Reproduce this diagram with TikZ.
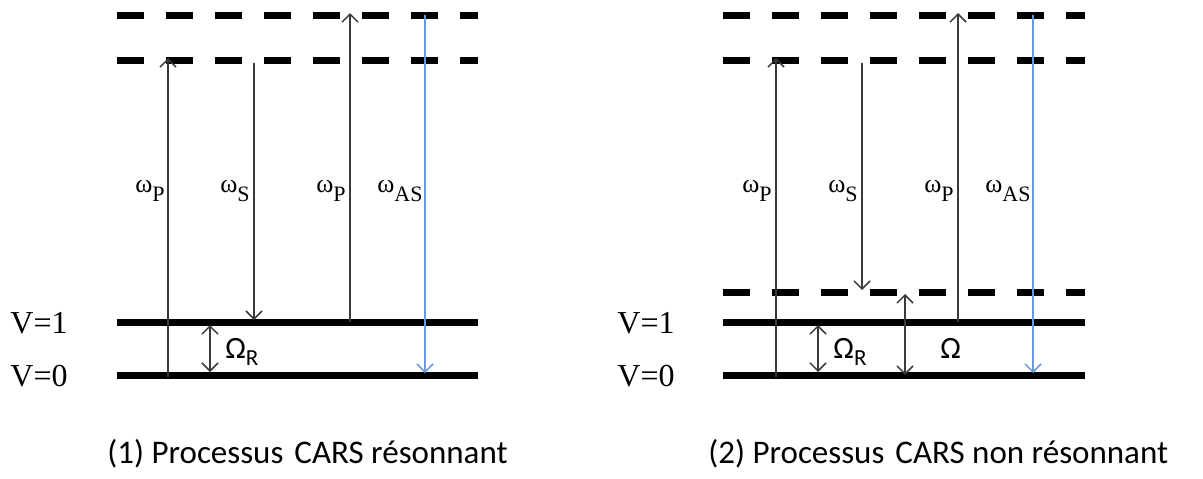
\documentclass[tikz,border=0pt]{standalone}
\usepackage{fontspec}
\setmainfont{Liberation Serif}
\newfontfamily\carfont{Carlito}
\usetikzlibrary{arrows.meta}
\definecolor{arrgray}{HTML}{3A3A3A}
\definecolor{asblue}{HTML}{6A9AD6}
\tikzset{
  level/.style={line width=3.5pt,black},
  virt/.style={line width=3.5pt,black,dash pattern=on 13.5pt off 11pt},
  trans/.style={line width=0.75pt,arrgray,-{Straight Barb[length=4pt,width=8pt,line width=0.75pt]}},
  transb/.style={line width=0.75pt,asblue,-{Straight Barb[length=4pt,width=8pt,line width=0.75pt]}},
  gap/.style={line width=0.75pt,arrgray,{Straight Barb[length=4pt,width=8pt,line width=0.75pt]}-{Straight Barb[length=4pt,width=8pt,line width=0.75pt]}},
  wlab/.style={anchor=base east,inner sep=0pt,font=\fontsize{13}{15}\selectfont},
  vlab/.style={anchor=base west,inner sep=0pt,font=\fontsize{16}{18}\selectfont},
  olab/.style={anchor=base west,inner sep=0pt,font=\carfont\fontsize{15.5}{18}\selectfont},
  captxt/.style={anchor=base west,inner sep=0pt,font=\carfont\fontsize{16.5}{20}\selectfont}
}
\newcommand{\wsub}[1]{ω\raisebox{-4.5pt}{\fontsize{11}{13}\selectfont #1}}
\newcommand{\osub}[1]{Ω\raisebox{-3.5pt}{\fontsize{11.5}{13}\selectfont #1}}
\begin{document}
\begin{tikzpicture}[x=0.5pt,y=-0.5pt]
\useasboundingbox (0,0) rectangle (1203,478);
% ---------- left diagram ----------
\coordinate (A1a) at (117,15);  \coordinate (A1b) at (478,15);
\coordinate (A2a) at (117,60);  \coordinate (A2b) at (478,60);
\coordinate (V1a) at (117,322); \coordinate (V1b) at (478,322);
\coordinate (V0a) at (117,375); \coordinate (V0b) at (478,375);
\draw[virt] (A1a) -- (A1b);
\draw[virt] (A2a) -- (A2b);
\draw[level] (V1a) -- (V1b);
\draw[level] (V0a) -- (V0b);
\node[vlab] (lv1) at (10,333) {V=1};
\node[vlab] (lv0) at (10,386) {V=0};
\coordinate (p1s) at (168,377); \coordinate (p1e) at (168,58);
\coordinate (s1s) at (254,63);  \coordinate (s1e) at (254,320);
\coordinate (p2s) at (350,322); \coordinate (p2e) at (350,13);
\coordinate (as1s) at (425,15); \coordinate (as1e) at (425,373);
\coordinate (r1s) at (210,325); \coordinate (r1e) at (210,372);
\draw[trans] (p1s) -- (p1e);
\draw[trans] (s1s) -- (s1e);
\draw[trans] (p2s) -- (p2e);
\draw[transb] (as1s) -- (as1e);
\draw[gap] (r1s) -- (r1e);
\node[wlab] (lwp1) at (165,192) {\wsub{P}};
\node[wlab] (lws) at (250,192) {\wsub{S}};
\node[wlab] (lwp2) at (346,192) {\wsub{P}};
\node[wlab] (lwas) at (423,192) {\wsub{AS}};
\node[olab] (lor) at (225,358) {\osub{R}};
\node[captxt] (cap1) at (107,463) {(1) Processus\,\,CARS résonnant};
% ---------- right diagram ----------
\coordinate (B1a) at (723,15);  \coordinate (B1b) at (1085,15);
\coordinate (B2a) at (723,60);  \coordinate (B2b) at (1085,60);
\coordinate (B3a) at (723,292); \coordinate (B3b) at (1085,292);
\coordinate (W1a) at (723,322); \coordinate (W1b) at (1085,322);
\coordinate (W0a) at (723,375); \coordinate (W0b) at (1085,375);
\draw[virt] (B1a) -- (B1b);
\draw[virt] (B2a) -- (B2b);
\draw[virt] (B3a) -- (B3b);
\draw[level] (W1a) -- (W1b);
\draw[level] (W0a) -- (W0b);
\node[vlab] (rv1) at (617,333) {V=1};
\node[vlab] (rv0) at (617,386) {V=0};
\coordinate (p3s) at (776,377); \coordinate (p3e) at (776,58);
\coordinate (s2s) at (862,63);  \coordinate (s2e) at (862,290);
\coordinate (p4s) at (958,322); \coordinate (p4e) at (958,13);
\coordinate (as2s) at (1033,15); \coordinate (as2e) at (1033,373);
\coordinate (r2s) at (818,325); \coordinate (r2e) at (818,372);
\coordinate (o2s) at (905,375); \coordinate (o2e) at (905,294);
\draw[trans] (p3s) -- (p3e);
\draw[trans] (s2s) -- (s2e);
\draw[trans] (p4s) -- (p4e);
\draw[transb] (as2s) -- (as2e);
\draw[gap] (r2s) -- (r2e);
\draw[gap] (o2s) -- (o2e);
\node[wlab] (rwp1) at (772,192) {\wsub{P}};
\node[wlab] (rws) at (858,192) {\wsub{S}};
\node[wlab] (rwp2) at (954,192) {\wsub{P}};
\node[wlab] (rwas) at (1031,192) {\wsub{AS}};
\node[olab] (ror) at (833,358) {\osub{R}};
\node[olab] (ro) at (940,358) {Ω};
\node[captxt] (cap2) at (708,463) {(2) Processus\,\,CARS non résonnant};
\end{tikzpicture}
\end{document}
